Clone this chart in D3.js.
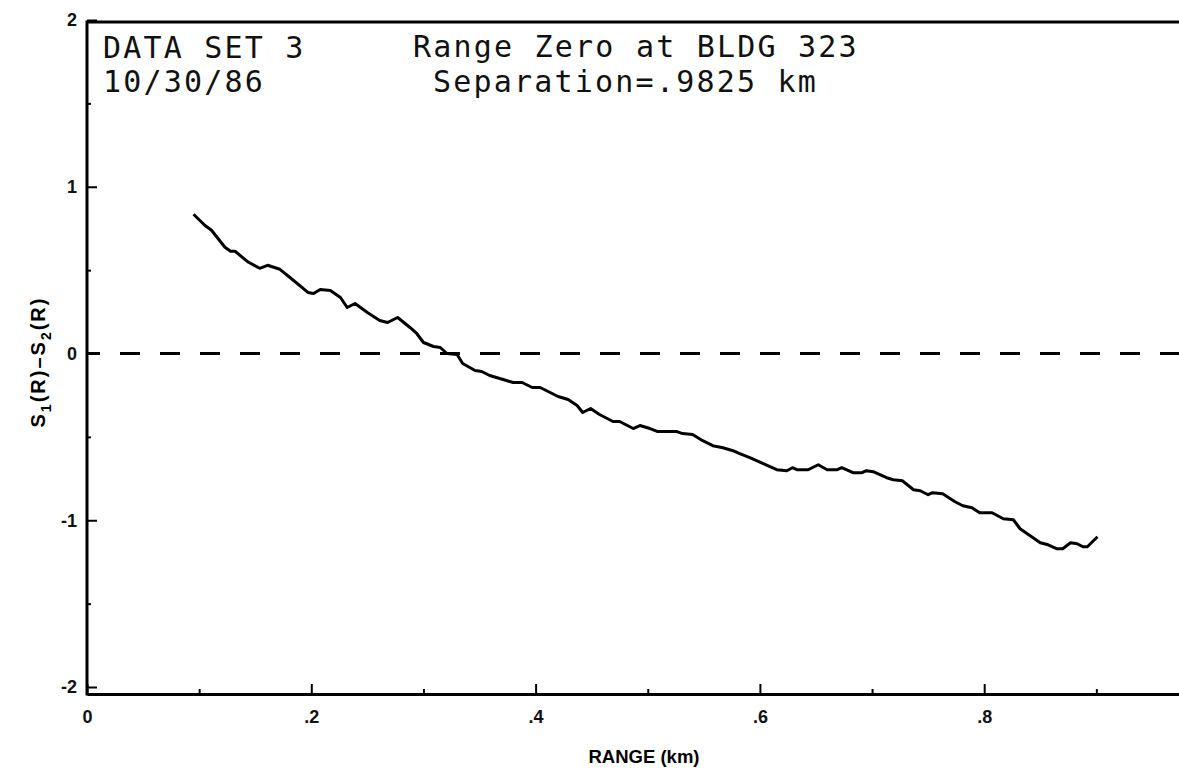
<!DOCTYPE html>
<html>
<head>
<meta charset="utf-8">
<script src="https://cdn.jsdelivr.net/npm/d3@7"></script>
<style>
  body { margin: 0; background: #fff; }
  .tick text { font-family: "Liberation Sans", Arial, sans-serif; font-weight: bold; font-size: 18px; fill: #111; }
  .mono { font-family: "DejaVu Sans Mono", monospace; font-size: 30px; letter-spacing: 2.2px; fill: #111; }
</style>
</head>
<body>
<div id="chart"></div>
<script>
// range (km) and S1(R)-S2(R)
var rangeKm = [0.095, 0.105, 0.111, 0.123, 0.128, 0.132, 0.144, 0.154, 0.161, 0.172,
  0.181, 0.197, 0.202, 0.208, 0.217, 0.226, 0.232, 0.239, 0.250, 0.261,
  0.268, 0.277, 0.288, 0.294, 0.300, 0.309, 0.315, 0.321, 0.330, 0.335,
  0.346, 0.352, 0.359, 0.371, 0.380, 0.388, 0.397, 0.404, 0.413, 0.420,
  0.429, 0.437, 0.442, 0.449, 0.457, 0.469, 0.475, 0.487, 0.493, 0.502,
  0.509, 0.526, 0.531, 0.540, 0.549, 0.558, 0.567, 0.576, 0.582, 0.591,
  0.603, 0.615, 0.624, 0.629, 0.633, 0.643, 0.652, 0.660, 0.669, 0.673,
  0.683, 0.691, 0.695, 0.701, 0.713, 0.719, 0.727, 0.737, 0.743, 0.750,
  0.754, 0.763, 0.774, 0.781, 0.789, 0.796, 0.807, 0.817, 0.826, 0.832,
  0.841, 0.850, 0.857, 0.865, 0.870, 0.877, 0.883, 0.888, 0.892, 0.901]

var sDiff = [0.835, 0.769, 0.739, 0.637, 0.613, 0.613, 0.547, 0.511, 0.529, 0.505,
  0.456, 0.366, 0.360, 0.384, 0.378, 0.336, 0.276, 0.300, 0.246, 0.198,
  0.186, 0.216, 0.156, 0.120, 0.066, 0.042, 0.036, 0.000, -0.006, -0.060,
  -0.102, -0.108, -0.132, -0.156, -0.174, -0.174, -0.204, -0.204, -0.234, -0.258,
  -0.276, -0.312, -0.354, -0.330, -0.366, -0.408, -0.408, -0.450, -0.432, -0.450,
  -0.468, -0.468, -0.480, -0.486, -0.523, -0.553, -0.565, -0.583, -0.601, -0.625,
  -0.661, -0.697, -0.703, -0.685, -0.697, -0.697, -0.667, -0.697, -0.697, -0.685,
  -0.715, -0.715, -0.703, -0.709, -0.745, -0.757, -0.763, -0.817, -0.823, -0.847,
  -0.835, -0.841, -0.889, -0.913, -0.925, -0.955, -0.955, -0.991, -0.997, -1.051,
  -1.093, -1.135, -1.147, -1.171, -1.171, -1.135, -1.141, -1.159, -1.159, -1.099]

var xMajor = [0, 0.2, 0.4, 0.6, 0.8]
var xMinor = [0.1, 0.3, 0.5, 0.7, 0.9]
var yMajor = [-2, -1, 0, 1, 2]
var yMinor = [-1.5, -0.5, 0.5, 1.5]

var notesLeft = ["DATA SET 3", "10/30/86"]
var notesRight = ["Range Zero at BLDG 323", "Separation=.9825 km"]

var W = 1179, H = 770
var margin = { top: 0, right: 0, bottom: 0, left: 87 }
var frameTop = 22, frameBottom = 694

var svg = d3.select("#chart").append("svg")
  .attr("width", W)
  .attr("height", H)

var g = svg.append("g")
  .attr("transform", "translate(" + margin.left + "," + margin.top + ")")

var width = W - margin.left

var xScale = d3.scaleLinear().domain([0, 1]).range([0, 1121.5])
var yScale = d3.scaleLinear().domain([-2, 2]).range([687, 20])

// frame: top and left lines
g.append("line")
  .attr("x1", 0).attr("x2", width)
  .attr("y1", frameTop).attr("y2", frameTop)
  .attr("stroke", "#000").attr("stroke-width", 3)
g.append("line")
  .attr("x1", 0).attr("x2", 0)
  .attr("y1", frameTop - 1.5).attr("y2", frameBottom + 1.5)
  .attr("stroke", "#000").attr("stroke-width", 3)

// x axis, ticks pointing up
var xAxis = d3.axisBottom(xScale).tickValues(xMajor).tickSize(-10).tickSizeOuter(0).tickPadding(16)
  .tickFormat(function(d) { return d === 0 ? "0" : d3.format(".1f")(d).replace(/^0/, "") })
var xg = g.append("g")
  .attr("class", "axis x-axis")
  .attr("transform", "translate(0," + frameBottom + ")")
  .call(xAxis)
xg.select(".domain").attr("stroke-width", 3)
xg.selectAll(".tick line").attr("stroke-width", 2)

g.append("g")
  .attr("transform", "translate(0," + frameBottom + ")")
  .call(d3.axisBottom(xScale).tickValues(xMinor).tickSize(-5).tickFormat(""))
  .call(function(s) { s.select(".domain").remove() })
  .selectAll(".tick line").attr("stroke-width", 2)

// y axis, ticks pointing right
var yAxis = d3.axisLeft(yScale).tickValues(yMajor).tickSize(-10).tickPadding(10)
  .tickFormat(function(d) { return String(d) })
var yg = g.append("g")
  .attr("class", "axis y-axis")
  .call(yAxis)
yg.select(".domain").remove()
yg.selectAll(".tick line").attr("stroke-width", 2)

g.append("g")
  .call(d3.axisLeft(yScale).tickValues(yMinor).tickSize(-4).tickFormat(""))
  .call(function(s) { s.select(".domain").remove() })
  .selectAll(".tick line").attr("stroke-width", 2)

// zero line
g.append("line")
  .attr("x1", 0).attr("x2", width)
  .attr("y1", yScale(0)).attr("y2", yScale(0))
  .attr("stroke", "#000")
  .attr("stroke-width", 3)
  .attr("stroke-dasharray", "20,20")
  .attr("stroke-dashoffset", 7)

// the curve
var pts = rangeKm.map(function(r, i) { return [r, sDiff[i]] })
var line = d3.line()
  .x(function(d) { return xScale(d[0]) })
  .y(function(d) { return yScale(d[1]) })

g.append("path")
  .datum(pts)
  .attr("d", line)
  .attr("fill", "none")
  .attr("stroke", "#000")
  .attr("stroke-width", 3)
  .attr("stroke-linejoin", "round")

// notes in the top corner
svg.selectAll(".note-left")
  .data(notesLeft)
  .enter().append("text")
  .attr("class", "mono note-left")
  .attr("x", 103)
  .attr("y", function(d, i) { return 58 + i * 34 })
  .text(function(d) { return d })

svg.selectAll(".note-right")
  .data(notesRight)
  .enter().append("text")
  .attr("class", "mono note-right")
  .attr("x", function(d, i) { return i === 0 ? 413 : 433 })
  .attr("y", function(d, i) { return 57 + i * 35 })
  .text(function(d) { return d })

// axis titles
svg.append("text")
  .attr("x", 644)
  .attr("y", 763)
  .attr("text-anchor", "middle")
  .style("font-family", "Liberation Sans, Arial, sans-serif")
  .style("font-weight", "bold")
  .style("font-size", "18.5px")
  .text("RANGE (km)")

var ylab = svg.append("text")
  .attr("transform", "translate(45,362) rotate(-90)")
  .attr("text-anchor", "middle")
  .style("font-family", "Liberation Sans, Arial, sans-serif")
  .style("font-weight", "bold")
  .style("font-size", "20px")
  .style("letter-spacing", "2px")
ylab.append("tspan").text("S")
ylab.append("tspan").attr("dy", 6).style("font-size", "14px").text("1")
ylab.append("tspan").attr("dy", -6).text("(R)–S")
ylab.append("tspan").attr("dy", 6).style("font-size", "14px").text("2")
ylab.append("tspan").attr("dy", -6).text("(R)")
</script>
</body>
</html>
